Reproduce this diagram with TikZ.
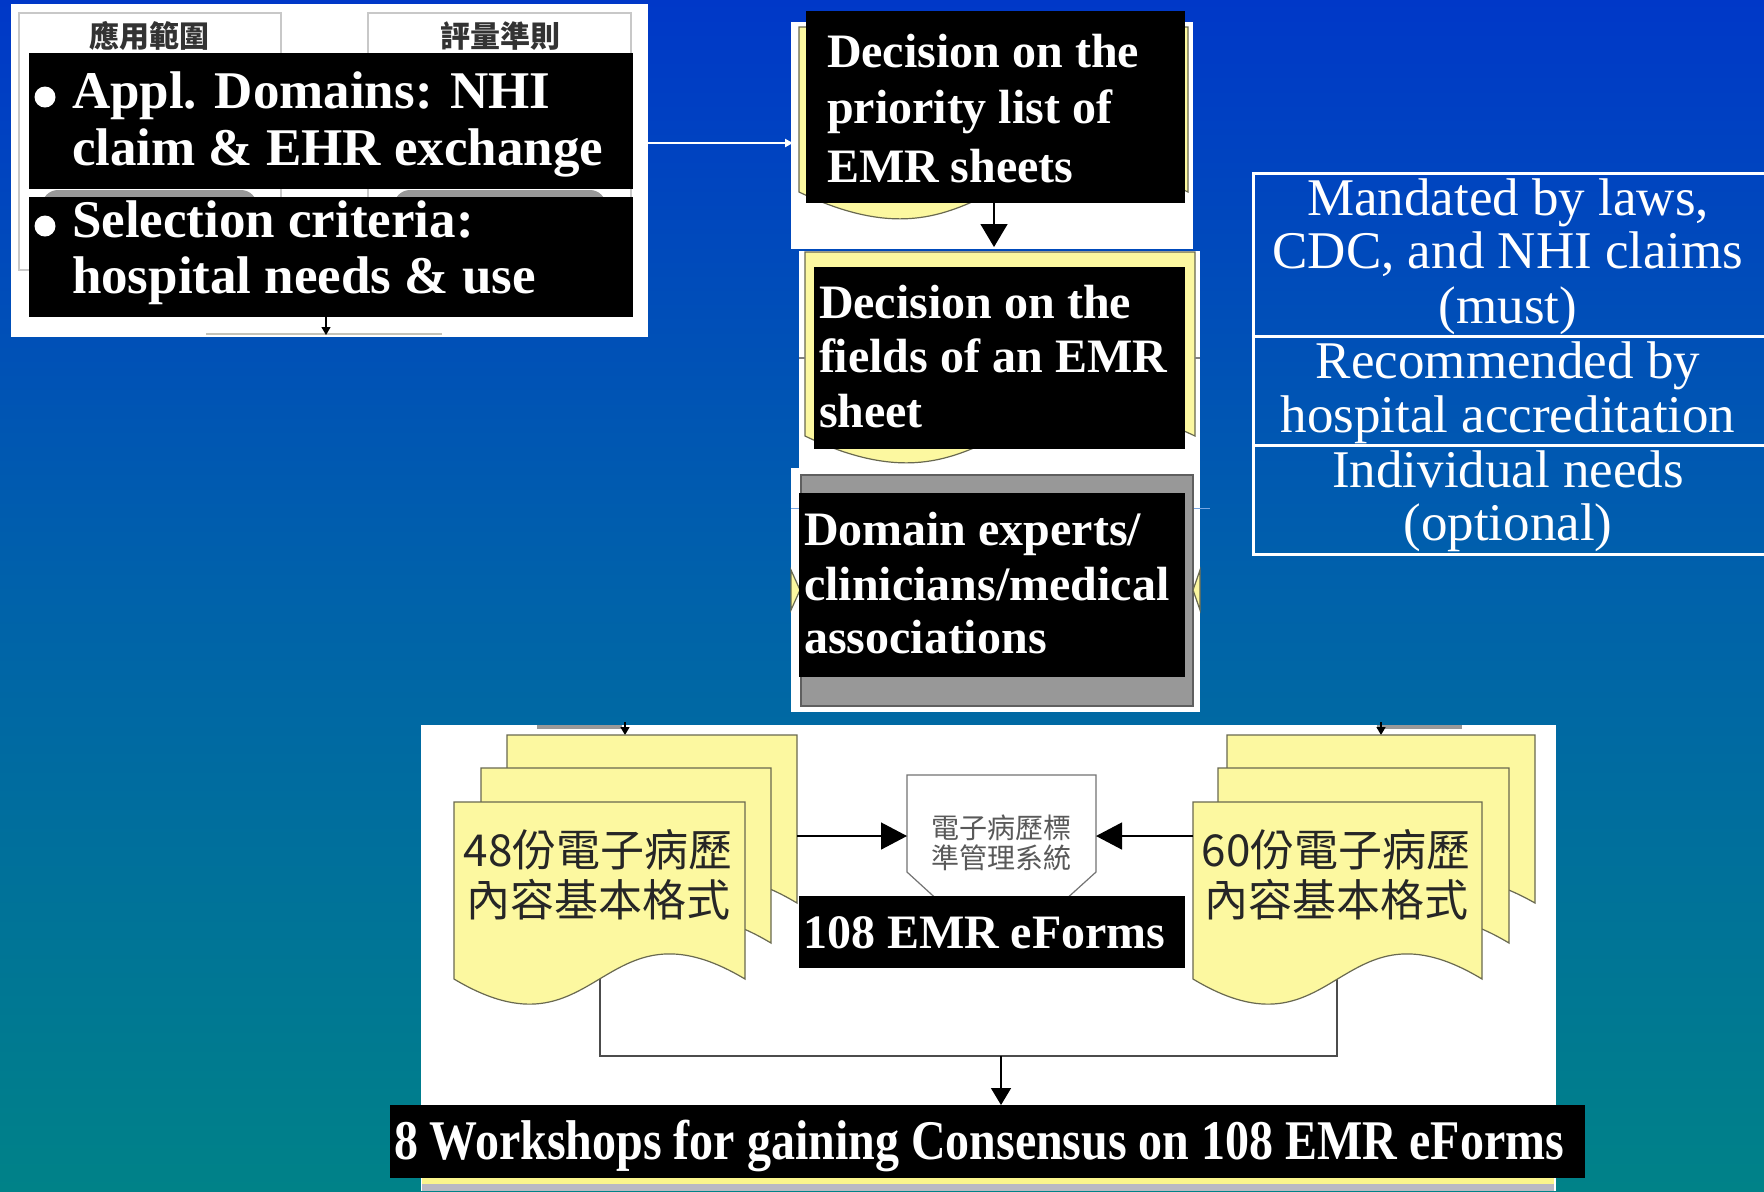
\documentclass[tikz,border=0pt]{standalone}
\usepackage{fontspec}
\usepackage{graphicx}
\setmainfont{Liberation Serif}
\newfontfamily\cjk{Noto Sans CJK TC}
\usetikzlibrary{arrows.meta,fit}
\definecolor{bgtop}{RGB}{0,56,200}
\definecolor{bgmid}{RGB}{0,98,170}
\definecolor{bgbot}{RGB}{0,130,136}
\definecolor{docyel}{RGB}{252,248,160}
\definecolor{docedge}{RGB}{105,105,80}
\definecolor{graybox}{RGB}{152,152,152}
\definecolor{grayedge}{RGB}{95,95,95}
\definecolor{hdredge}{RGB}{200,200,200}
\definecolor{lineblue}{RGB}{120,165,225}
\definecolor{stripyel}{RGB}{250,245,140}
\definecolor{stripgray}{RGB}{185,185,195}
\newcommand{\emrdoc}[5]{\filldraw[docshape] (#1,#2) -- (#1+#3,#2) -- (#1+#3,#2+#4) .. controls (#1+0.5*#3,#2+#4-#5) and (#1+0.5*#3,#2+#4+#5) .. (#1,#2+#4) -- cycle;}
\begin{document}
\begin{tikzpicture}[x=0.5pt,y=-0.5pt,
 every node/.style={inner sep=0pt,outer sep=0pt},
 blackbox/.style={fill=black},
 whitepanel/.style={fill=white},
 docshape/.style={fill=docyel,draw=docedge,line width=0.6pt},
 wtext/.style={text=white,anchor=base west,font=\bfseries\fontsize{24}{28}\selectfont},
 wtextL/.style={text=white,anchor=base west,font=\bfseries\fontsize{26.5}{28}\selectfont},
 bulletdot/.style={circle,fill=white,minimum size=10.5pt},
 tbltext/.style={text=white,anchor=base,font=\fontsize{26.5}{28}\selectfont},
 cjkdoc/.style={text=black!85,font=\cjk\fontsize{22}{24}\selectfont},
 cjksmall/.style={text=black!65,font=\cjk\fontsize{14}{16}\selectfont},
 cjkhead/.style={text=black!80,font=\cjk\bfseries\fontsize{15}{16}\selectfont},
 conn/.style={draw=black!70,line width=0.7pt},
 bigtip/.style={-{Triangle[length=13pt,width=13.5pt]}},
 smalltip/.style={-{Triangle[length=4pt,width=4.5pt]}},
]
\useasboundingbox (0,0) rectangle (1764,1191);
\shade[top color=bgtop,bottom color=bgbot,middle color=bgmid] (0,0) rectangle (1764,1191);

% ---------- top-left panel ----------
\node[whitepanel,fit={(11,4)(648,337)}] (lp) {};
\draw[hdredge,line width=0.8pt] (19,13) rectangle (281,270);
\draw[hdredge,line width=0.8pt] (368,13) rectangle (631,270);
\node[cjkhead] (h1) at (149,36) {應用範圍};
\node[cjkhead] (h2) at (500,36) {評量準則};
\fill[graybox,rounded corners=8pt] (42,190) rectangle (257,262);
\fill[graybox,rounded corners=8pt] (394,190) rectangle (606,262);
\node[blackbox,fit={(29,53)(633,189)}] (lb1) {};
\node[blackbox,fit={(29,197)(633,317)}] (lb2) {};
\node[bulletdot] (lb1b) at (45,97) {};
\node[wtextL] (lb1a) at (72,108) {Appl. Domains: NHI};
\node[wtextL] (lb1c) at (72,165) {claim \& EHR exchange};
\node[bulletdot] (lb2b) at (45,226) {};
\node[wtextL] (lb2a) at (72,237) {Selection criteria:};
\node[wtextL] (lb2c) at (72,293) {hospital needs \& use};
\draw[docedge!40,line width=0.8pt] (206,334) -- (442,334);
\coordinate (lpb1) at (326,317);
\coordinate (lpb2) at (326,335);
\draw[black,line width=0.6pt,smalltip] (lpb1) -- (lpb2);

% connector to first decision
\coordinate (lpE) at (648,143);
\coordinate (p1W) at (793,143);
\draw[white,line width=1pt,-{Triangle[length=4pt,width=4pt]}] (lpE) -- (p1W);

% ---------- middle panel 1 ----------
\node[whitepanel,fit={(791,22)(1193,249)}] (p1) {};
\emrdoc{799}{27}{389}{165}{93}
\node[blackbox,fit={(806,11)(1185,203)}] (d1) {};
\node[wtext] (d1a) at (827,67) {Decision on the};
\node[wtext] (d1b) at (827,123) {priority list of};
\node[wtext] (d1c) at (827,182) {EMR sheets};

% ---------- middle panel 2 ----------
\node[whitepanel,fit={(799,251)(1200,468)}] (p2) {};
\emrdoc{805}{252}{390}{184}{93}
\draw[black!50,line width=0.6pt] (799,358) -- (805,358);
\draw[black!50,line width=0.6pt] (1195,358) -- (1200,358);
\node[blackbox,fit={(814,267)(1185,449)}] (d2) {};
\node[wtext] (d2a) at (819,318) {Decision on the};
\node[wtext] (d2b) at (819,372) {fields of an EMR};
\node[wtext] (d2c) at (819,427) {sheet};
\coordinate (d1s) at (994,203);
\coordinate (p2top) at (994,247);
\draw[black,line width=0.7pt,-{Triangle[length=11.5pt,width=13.5pt]}] (d1s) -- (p2top);

% ---------- middle panel 3 ----------
\node[whitepanel,fit={(791,468)(1200,712)}] (p3) {};
\draw[lineblue,line width=0.5pt] (791,508) -- (1210,508);
\node[fill=graybox,draw=grayedge,line width=1pt,fit={(801,475)(1193,706)}] (g3) {};
\filldraw[docshape] (791,570) -- (800,590) -- (791,610) -- cycle;
\filldraw[docshape] (1200,570) -- (1193,590) -- (1200,610) -- cycle;
\node[blackbox,fit={(799,493)(1185,677)}] (d3) {};
\node[wtext] (d3a) at (804,545) {Domain experts/};
\node[wtext] (d3b) at (804,600) {clinicians/medical};
\node[wtext] (d3c) at (804,653) {associations};

% ---------- right table ----------
\node[draw=white,line width=1.5pt,fit={(1253,173)(1780,554)}] (tb) {};
\draw[white,line width=1.5pt] (1253,336) -- (1780,336);
\draw[white,line width=1.5pt] (1253,445) -- (1780,445);
\node[tbltext] (t1) at (1508,215) {Mandated by laws,};
\node[tbltext] (t2) at (1508,268) {CDC, and NHI claims};
\node[tbltext] (t3) at (1508,323) {(must)};
\node[tbltext] (t4) at (1508,378) {Recommended by};
\node[tbltext] (t5) at (1508,432) {hospital accreditation};
\node[tbltext] (t6) at (1508,487) {Individual needs};
\node[tbltext] (t7) at (1508,540) {(optional)};

% ---------- bottom panel ----------
\node[whitepanel,fit={(421,725)(1556,1191)}] (bp) {};
\fill[black!40] (537,725) rectangle (622,729);
\fill[black!40] (1377,725) rectangle (1462,729);
\coordinate (ta1) at (625,722);
\coordinate (ta2) at (625,735);
\coordinate (tb1) at (1381,722);
\coordinate (tb2) at (1381,735);
\draw[black,line width=0.6pt,smalltip] (ta1) -- (ta2);
\draw[black,line width=0.6pt,smalltip] (tb1) -- (tb2);

\coordinate (lj) at (600,1056);
\coordinate (rj) at (1337,1056);
\coordinate (mj) at (1001,1056);
\draw[conn] (600,960) -- (lj) -- (rj) -- (1337,960);

\emrdoc{507}{735}{290}{168}{87}
\emrdoc{481}{768}{290}{175}{87}
\emrdoc{454}{802}{291}{177}{87}
\emrdoc{1227}{735}{308}{168}{87}
\emrdoc{1218}{768}{291}{175}{87}
\emrdoc{1193}{802}{289}{177}{87}
\node[cjkdoc] (l48a) at (598,850) {48份電子病歷};
\node[cjkdoc] (l48b) at (598,900) {內容基本格式};
\node[cjkdoc] (r60a) at (1336,850) {60份電子病歷};
\node[cjkdoc] (r60b) at (1336,900) {內容基本格式};

\filldraw[fill=white,draw=black!55,line width=0.6pt] (907,775) -- (1096,775) -- (1096,872) -- (1001,958) -- (907,872) -- cycle;
\node[cjksmall] (pt1) at (1001,828) {電子病歷標};
\node[cjksmall] (pt2) at (1001,858) {準管理系統};
\coordinate (lsE) at (797,836);
\coordinate (pL) at (907,836);
\coordinate (rsW) at (1193,836);
\coordinate (pR) at (1096,836);
\draw[conn,black,bigtip] (lsE) -- (pL);
\draw[conn,black,bigtip] (rsW) -- (pR);

\node[blackbox,fit={(799,896)(1185,968)}] (e108) {};
\node[wtext] (e108t) at (803,948) {108 EMR eForms};

\coordinate (banTop) at (1001,1105);
\draw[conn,black,-{Triangle[length=8.5pt,width=10pt]}] (mj) -- (banTop);
\fill[stripyel] (422,1178) rectangle (1554,1184);
\fill[stripgray] (422,1184) rectangle (1554,1191);
\node[blackbox,fit={(390,1105)(1585,1178)}] (ban) {};
\node[text=white,anchor=base west,font=\bfseries\fontsize{28}{30}\selectfont] (bant) at (394,1159) {\resizebox{585pt}{\height}{8 Workshops for gaining Consensus on 108 EMR eForms}};
\end{tikzpicture}
\end{document}
